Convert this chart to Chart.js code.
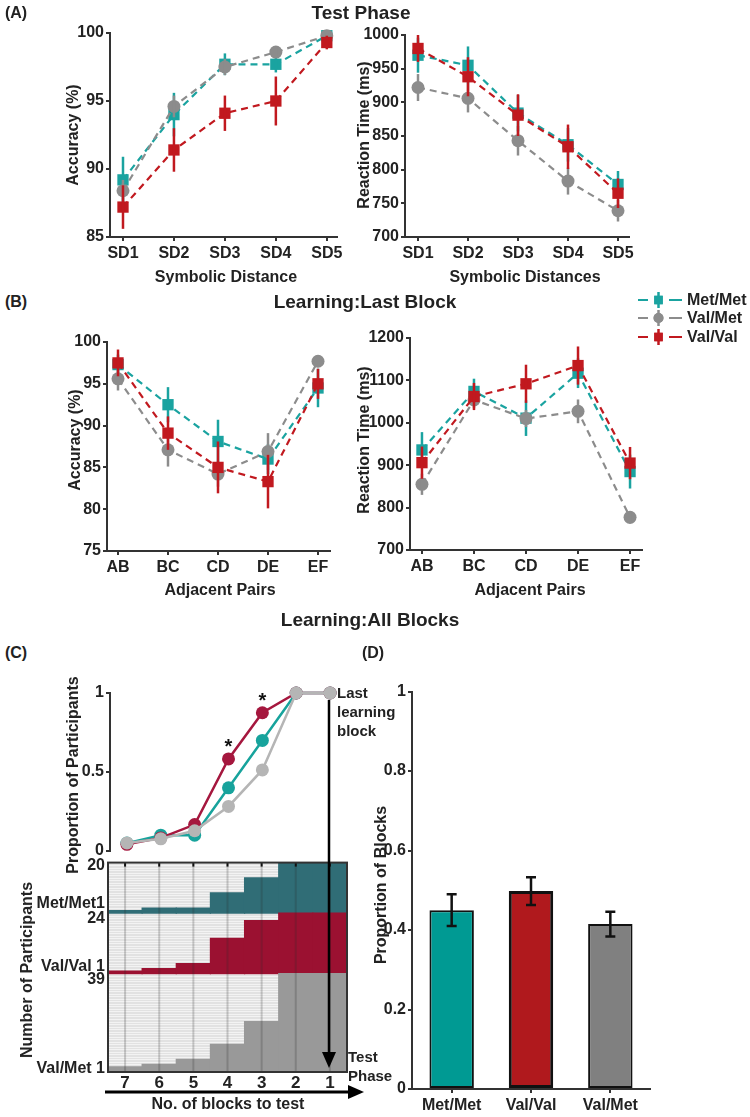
<!DOCTYPE html>
<html>
<head>
<meta charset="utf-8">
<script src="https://cdn.jsdelivr.net/npm/chart.js@4.4.0/dist/chart.umd.min.js"></script>
<style>
  body { margin: 0; background: #fff; }
  #fig { position: relative; width: 750px; height: 1117px; overflow: hidden;
         font-family: "Liberation Sans", Arial, sans-serif; font-weight: bold; color: #222; }
  canvas { position: absolute; }
  .t { position: absolute; white-space: nowrap; z-index: 2; font-size: 16px; transform: translate(-50%, -50%); }
  .r { transform: translate(-50%, -50%) rotate(-90deg); }
  .big { font-size: 19px; }
  .note { position: absolute; z-index: 2; font-size: 15px; line-height: 19px; }
  svg { position: absolute; left: 0; top: 0; z-index: 2; }
</style>
</head>
<body>
<div id="fig">
  <canvas id="aAcc" width="375" height="250" style="left:0;top:20px"></canvas>
  <canvas id="aRt" width="395" height="250" style="left:355px;top:20px"></canvas>
  <canvas id="bAcc" width="375" height="280" style="left:0;top:320px"></canvas>
  <canvas id="bRt" width="395" height="310" style="left:355px;top:290px"></canvas>
  <canvas id="cProp" width="375" height="185" style="left:0;top:680px"></canvas>
  <canvas id="cRaster" width="375" height="245" style="left:0;top:850px"></canvas>
  <canvas id="dBar" width="390" height="437" style="left:360px;top:680px"></canvas>

  <div class="t" style="left:16px;top:13px">(A)</div>
  <div class="t big" style="left:361px;top:13px">Test Phase</div>
  <div class="t r" style="left:73px;top:135px">Accuracy (%)</div>
  <div class="t r" style="left:364px;top:135px">Reaction Time (ms)</div>
  <div class="t" style="left:226px;top:277px">Symbolic Distance</div>
  <div class="t" style="left:525px;top:277px">Symbolic Distances</div>

  <div class="t" style="left:16px;top:302px">(B)</div>
  <div class="t big" style="left:365px;top:302px">Learning:Last Block</div>
  <div class="t r" style="left:75px;top:440px">Accuracy (%)</div>
  <div class="t r" style="left:364px;top:440px">Reaction Time (ms)</div>
  <div class="t" style="left:220px;top:590px">Adjacent Pairs</div>
  <div class="t" style="left:530px;top:590px">Adjacent Pairs</div>

  <div class="t big" style="left:370px;top:620px">Learning:All Blocks</div>
  <div class="t" style="left:16px;top:653px">(C)</div>
  <div class="t" style="left:373px;top:653px">(D)</div>
  <div class="t r" style="left:73px;top:775px">Proportion of Participants</div>
  <div class="t r" style="left:27px;top:970px">Number of Participants</div>
  <div class="note" style="left:337px;top:683px">Last<br>learning<br>block</div>
  <div class="note" style="left:348px;top:1047px">Test<br>Phase</div>
  <div class="t" style="left:228px;top:1104px">No. of blocks to test</div>
  <div class="t r" style="left:381px;top:885px">Proportion of Blocks</div>

  <svg width="750" height="1117">
    <line x1="329" y1="700" x2="329" y2="1054" stroke="#000" stroke-width="2.5"/>
    <polygon points="322,1052 336,1052 329,1068" fill="#000"/>
    <line x1="105" y1="1092" x2="350" y2="1092" stroke="#000" stroke-width="3"/>
    <polygon points="348,1085 348,1099 364,1092" fill="#000"/>
  </svg>
</div>

<script>
// categories
const sdLabels = ['SD1', 'SD2', 'SD3', 'SD4', 'SD5'];
const pairLabels = ['AB', 'BC', 'CD', 'DE', 'EF'];
const groupNames = ['Met/Met', 'Val/Met', 'Val/Val'];

// (A) test phase - accuracy (%)
const testAccMetMet = [89.2, 94.0, 97.7, 97.7, 99.8];
const testAccMetMetErr = [1.7, 1.6, 0.8, 0.6, 0.2];
const testAccValMet = [88.4, 94.6, 97.5, 98.6, 99.8];
const testAccValMetErr = [0.8, 0.8, 0.6, 0.4, 0.2];
const testAccValVal = [87.2, 91.4, 94.1, 95.0, 99.3];
const testAccValValErr = [1.6, 1.6, 1.3, 1.8, 0.5];

// (A) test phase - reaction time (ms)
const testRtMetMet = [970, 955, 884, 837, 778];
const testRtMetMetErr = [26, 28, 27, 25, 20];
const testRtValMet = [922, 906, 843, 783, 739];
const testRtValMetErr = [20, 21, 22, 20, 16];
const testRtValVal = [980, 938, 881, 834, 765];
const testRtValValErr = [20, 29, 31, 33, 22];

// (B) last learning block - accuracy (%)
const lastAccMetMet = [97.3, 92.5, 88.1, 86.0, 94.5];
const lastAccMetMetErr = [1.2, 2.1, 2.6, 1.8, 2.3];
const lastAccValMet = [95.6, 87.1, 84.2, 86.9, 97.7];
const lastAccValMetErr = [1.4, 2.0, 1.5, 2.2, 0.7];
const lastAccValVal = [97.5, 89.1, 85.0, 83.3, 95.0];
const lastAccValValErr = [1.6, 2.0, 3.1, 3.2, 1.8];

// (B) last learning block - reaction time (ms)
const lastRtMetMet = [936, 1074, 1011, 1117, 885];
const lastRtMetMetErr = [42, 30, 42, 35, 40];
const lastRtValMet = [855, 1054, 1010, 1027, 777];
const lastRtValMetErr = [25, 20, 20, 28, 15];
const lastRtValVal = [906, 1062, 1092, 1135, 905];
const lastRtValValErr = [38, 32, 45, 45, 38];

// (C) blocks before test
const blockLabels = ['7', '6', '5', '4', '3', '2', '1'];
const propMetMet = [0.05, 0.10, 0.10, 0.40, 0.70, 1, 1];
const propValVal = [0.042, 0.083, 0.167, 0.583, 0.875, 1, 1];
const propValMet = [0.051, 0.077, 0.128, 0.282, 0.513, 1, 1];
const sigBlocks = ['4', '3'];
const nMetMet = 20;
const nValVal = 24;
const nValMet = 39;
const doneMetMet = [1, 2, 2, 8, 14, 20, 20];
const doneValVal = [1, 2, 4, 14, 21, 24, 24];
const doneValMet = [2, 3, 5, 11, 20, 39, 39];
const rasterTickValues = [81.8, 66.6, 60.7, 41.9, 36.8, 1.2];
const rasterTickText = ['20', 'Met/Met1', '24', 'Val/Val 1', '39', 'Val/Met 1'];

// (D) proportion of blocks
const barLabels = ['Met/Met', 'Val/Val', 'Val/Met'];
const blockProp = [0.45, 0.498, 0.415];
const blockPropErr = [0.04, 0.035, 0.031];

const TEAL = '#1aa3a0', GRAY = '#8c8c8c', RED = '#c1191f', AXIS = '#333';

Chart.defaults.font.family = '"Liberation Sans", Arial, sans-serif';
Chart.defaults.font.weight = 'bold';
Chart.defaults.font.size = 16;
Chart.defaults.color = '#222';
Chart.defaults.animation = false;
Chart.defaults.responsive = false;
Chart.defaults.plugins.legend.display = false;
Chart.defaults.plugins.tooltip.enabled = false;

const fmt = v => String(+Number(v).toFixed(2));

// vertical error bars, drawn right after their own dataset
const errorPlugin = {
  id: 'errs',
  afterDatasetDraw(chart, args) {
    const ds = chart.data.datasets[args.index];
    if (!ds.errors) return;
    const ys = chart.scales.y, ctx = chart.ctx;
    ctx.save();
    ctx.strokeStyle = ds.errColor || ds.borderColor;
    ctx.lineWidth = ds.errWidth || 2.5;
    args.meta.data.forEach((el, j) => {
      const raw = ds.data[j];
      const v = typeof raw === 'object' ? raw.y : raw;
      const top = ys.getPixelForValue(v + ds.errors[j]);
      const bot = ys.getPixelForValue(v - ds.errors[j]);
      ctx.beginPath();
      ctx.moveTo(el.x, top); ctx.lineTo(el.x, bot);
      if (ds.errCap) {
        ctx.moveTo(el.x - ds.errCap, top); ctx.lineTo(el.x + ds.errCap, top);
        ctx.moveTo(el.x - ds.errCap, bot); ctx.lineTo(el.x + ds.errCap, bot);
      }
      ctx.stroke();
    });
    ctx.restore();
  }
};

function groupSeries(mm, mmErr, vm, vmErr, vv, vvErr) {
  return [
    { label: groupNames[0], values: mm, errors: mmErr, color: TEAL, shape: 'rect', radius: 8, order: 2 },
    { label: groupNames[1], values: vm, errors: vmErr, color: GRAY, shape: 'circle', radius: 6.5, order: 1 },
    { label: groupNames[2], values: vv, errors: vvErr, color: RED, shape: 'rect', radius: 8, order: 0 }
  ];
}

function makeLine(id, labels, series, yr, xr, box, extra) {
  return new Chart(document.getElementById(id), {
    type: 'line',
    data: {
      datasets: series.map(s => ({
        label: s.label,
        data: labels.map((_, i) => ({ x: i + 1, y: s.values[i] })),
        errors: s.errors,
        borderColor: s.color,
        backgroundColor: s.color,
        borderWidth: s.lineWidth || 2.2,
        borderDash: s.dash === undefined ? [7, 5] : s.dash,
        pointStyle: s.shape,
        pointRadius: s.radius,
        pointBorderWidth: 0,
        pointBackgroundColor: s.color,
        order: s.order,
        clip: false,
        tension: 0
      }))
    },
    options: {
      layout: { padding: { top: box.top, right: box.right, left: 0, bottom: box.bottom || 0 } },
      scales: {
        x: {
          type: 'linear', min: xr[0], max: xr[1], display: !box.noX,
          afterBuildTicks: s => { s.ticks = labels.map((_, i) => ({ value: i + 1 })); },
          afterFit: s => { s.height = box.xHeight; },
          ticks: { autoSkip: false, maxRotation: 0, padding: 3, callback: v => labels[v - 1] },
          grid: { drawOnChartArea: false, tickLength: 4, color: AXIS, lineWidth: 2 },
          border: { color: AXIS, width: 2 }
        },
        y: {
          min: yr[0], max: yr[1],
          afterBuildTicks: s => {
            const t = [];
            for (let v = yr[0]; v <= yr[1] + 1e-9; v += yr[2]) t.push({ value: v });
            s.ticks = t;
          },
          afterFit: s => { s.width = box.yWidth; },
          ticks: { padding: 2, callback: fmt },
          grid: { drawOnChartArea: false, tickLength: 4, color: AXIS, lineWidth: 2 },
          border: { color: AXIS, width: 2 }
        }
      }
    },
    plugins: [errorPlugin].concat(extra || [])
  });
}

// legend for the dashed group series (drawn in the free space right of B)
const legendPlugin = {
  id: 'grpLegend',
  afterDraw(chart) {
    const ctx = chart.ctx;
    const x0 = 283, rows = [10, 28, 47];
    chart.data.datasets.forEach((ds, i) => {
      const y = rows[i];
      ctx.save();
      ctx.strokeStyle = ds.borderColor;
      ctx.fillStyle = ds.borderColor;
      ctx.lineWidth = 2.2;
      ctx.beginPath();
      ctx.moveTo(x0, y); ctx.lineTo(x0 + 10, y);
      ctx.moveTo(x0 + 31, y); ctx.lineTo(x0 + 44, y);
      ctx.stroke();
      ctx.lineWidth = 2.5;
      ctx.beginPath();
      ctx.moveTo(x0 + 20.5, y - 8); ctx.lineTo(x0 + 20.5, y + 8);
      ctx.stroke();
      Chart.helpers.drawPoint(ctx, { pointStyle: ds.pointStyle, radius: ds.pointStyle === 'rect' ? 6 : 5, borderWidth: 0 }, x0 + 20.5, y);
      ctx.fill();
      ctx.fillStyle = '#222';
      ctx.font = 'bold 16px "Liberation Sans", Arial, sans-serif';
      ctx.textBaseline = 'middle';
      ctx.fillText(ds.label, x0 + 49, y + 1);
      ctx.restore();
    });
  }
};

// (A)
makeLine('aAcc', sdLabels,
  groupSeries(testAccMetMet, testAccMetMetErr, testAccValMet, testAccValMetErr, testAccValVal, testAccValValErr),
  [85, 100, 5], [0.745, 5.2], { yWidth: 110, top: 13, right: 38, xHeight: 33 });
makeLine('aRt', sdLabels,
  groupSeries(testRtMetMet, testRtMetMetErr, testRtValMet, testRtValMetErr, testRtValVal, testRtValValErr),
  [700, 1000, 50], [0.74, 5.22], { yWidth: 50, top: 15, right: 121, xHeight: 33 });

// (B)
makeLine('bAcc', pairLabels,
  groupSeries(lastAccMetMet, lastAccMetMetErr, lastAccValMet, lastAccValMetErr, lastAccValVal, lastAccValValErr),
  [75, 100, 5], [0.78, 5.24], { yWidth: 107, top: 22, right: 45, xHeight: 49 });
makeLine('bRt', pairLabels,
  groupSeries(lastRtMetMet, lastRtMetMetErr, lastRtValMet, lastRtValMetErr, lastRtValVal, lastRtValValErr),
  [700, 1200, 100], [0.77, 5.23], { yWidth: 55, top: 48, right: 108, xHeight: 50 }, [legendPlugin]);

// (C) cumulative proportion of participants
const starPlugin = {
  id: 'stars',
  afterDatasetsDraw(chart) {
    const idx = chart.data.datasets.findIndex(d => d.label === 'Val/Val');
    const meta = chart.getDatasetMeta(idx), ctx = chart.ctx;
    ctx.save();
    ctx.fillStyle = '#111';
    ctx.font = 'bold 20px "Liberation Sans", Arial, sans-serif';
    ctx.textAlign = 'center';
    sigBlocks.forEach(b => {
      const el = meta.data[blockLabels.indexOf(b)];
      ctx.fillText('*', el.x, el.y - 6);
    });
    ctx.restore();
  }
};
makeLine('cProp', blockLabels, [
  { label: 'Met/Met', values: propMetMet, color: '#17a39c', shape: 'circle', radius: 6.5, dash: [], lineWidth: 2.5, order: 2 },
  { label: 'Val/Val', values: propValVal, color: '#a5173e', shape: 'circle', radius: 6.5, dash: [], lineWidth: 2.5, order: 1 },
  { label: 'Val/Met', values: propValMet, color: '#b5b5b5', shape: 'circle', radius: 6.5, dash: [], lineWidth: 2.5, order: 0 }
], [0, 1, 0.5], [0.5, 7.5], { yWidth: 110, top: 13, right: 28, bottom: 14, noX: true, xHeight: 0 }, [starPlugin]);

// (C) raster of participants reaching criterion
const rasterPlugin = {
  id: 'raster',
  beforeDatasetsDraw(chart) {
    const { ctx, chartArea: a, scales: { y } } = chart;
    ctx.save();
    ctx.fillStyle = '#e2e2e2';
    ctx.fillRect(a.left, a.top, a.right - a.left, a.bottom - a.top);
    ctx.strokeStyle = '#f3f3f3';
    ctx.lineWidth = 1;
    for (let r = 0; r <= nMetMet + nValVal + nValMet; r++) {
      const py = Math.round(y.getPixelForValue(r)) + 0.5;
      ctx.beginPath(); ctx.moveTo(a.left, py); ctx.lineTo(a.right, py); ctx.stroke();
    }
    ctx.restore();
  },
  afterDatasetsDraw(chart) {
    const { ctx, chartArea: a, scales: { x } } = chart;
    ctx.save();
    blockLabels.forEach((_, i) => {
      const px = x.getPixelForValue(i);
      ctx.strokeStyle = 'rgba(40,40,40,0.22)';
      ctx.lineWidth = 2;
      ctx.beginPath(); ctx.moveTo(px, a.top); ctx.lineTo(px, a.bottom); ctx.stroke();
      ctx.strokeStyle = '#111';
      ctx.beginPath(); ctx.moveTo(px, a.top); ctx.lineTo(px, a.top + 4); ctx.stroke();
    });
    ctx.strokeStyle = AXIS;
    ctx.lineWidth = 2;
    ctx.strokeRect(a.left, a.top, a.right - a.left, a.bottom - a.top);
    ctx.restore();
  }
};
const baseValVal = nValMet;
const baseMetMet = nValMet + nValVal;
new Chart(document.getElementById('cRaster'), {
  type: 'bar',
  data: {
    labels: blockLabels,
    datasets: [
      { label: 'Val/Met', data: doneValMet.map(c => [0, c]), backgroundColor: '#999999' },
      { label: 'Val/Val', data: doneValVal.map(c => [baseValVal, baseValVal + c]), backgroundColor: '#9b1131' },
      { label: 'Met/Met', data: doneMetMet.map(c => [baseMetMet, baseMetMet + c]), backgroundColor: '#306d76' }
    ].map(d => Object.assign(d, { grouped: false, barPercentage: 1, categoryPercentage: 1, borderWidth: 0, inflateAmount: 0.6 }))
  },
  options: {
    layout: { padding: { top: 10, right: 28, left: 0, bottom: 0 } },
    scales: {
      x: {
        afterFit: s => { s.height = 23; },
        ticks: { padding: 1, font: { size: 17 } },
        grid: { display: false, drawTicks: false, tickLength: 0 },
        border: { display: false }
      },
      y: {
        min: 0, max: nMetMet + nValVal + nValMet,
        afterBuildTicks: s => { s.ticks = rasterTickValues.map(v => ({ value: v })); },
        afterFit: s => { s.width = 108; },
        ticks: { padding: 3, callback: (v, i) => rasterTickText[i] },
        grid: { display: false, drawTicks: false },
        border: { color: AXIS, width: 2 }
      }
    }
  },
  plugins: [rasterPlugin]
});

// (D) proportion of blocks
new Chart(document.getElementById('dBar'), {
  type: 'bar',
  data: {
    labels: barLabels,
    datasets: [{
      data: blockProp,
      errors: blockPropErr,
      errColor: '#111', errWidth: 2.5, errCap: 5,
      backgroundColor: ['#009a93', '#b0191d', '#808080'],
      borderColor: '#111',
      borderWidth: [2, 3, 2],
      borderSkipped: false,
      barPercentage: 0.56,
      categoryPercentage: 1
    }]
  },
  options: {
    layout: { padding: { top: 11, right: 100, left: 0, bottom: 0 } },
    scales: {
      x: {
        afterFit: s => { s.height = 28; },
        ticks: { padding: 3 },
        grid: { drawOnChartArea: false, tickLength: 4, color: AXIS, lineWidth: 2, offset: false },
        border: { color: AXIS, width: 2 }
      },
      y: {
        min: 0, max: 1,
        afterBuildTicks: s => { s.ticks = [0, 0.2, 0.4, 0.6, 0.8, 1].map(v => ({ value: v })); },
        afterFit: s => { s.width = 52; },
        ticks: { padding: 2, callback: fmt },
        grid: { drawOnChartArea: false, tickLength: 4, color: AXIS, lineWidth: 2 },
        border: { color: AXIS, width: 2 }
      }
    }
  },
  plugins: [errorPlugin]
});
</script>
</body>
</html>
